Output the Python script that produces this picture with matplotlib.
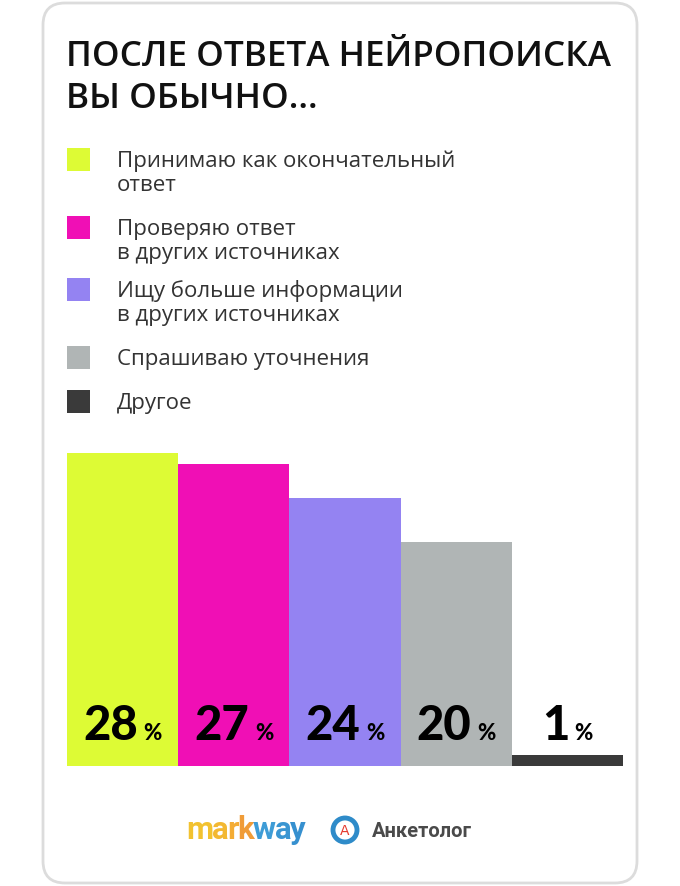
import matplotlib
matplotlib.use("Agg")
import matplotlib.pyplot as plt
from matplotlib.patches import FancyBboxPatch, Circle
from matplotlib.offsetbox import TextArea, HPacker, AnnotationBbox

# Survey data
title_lines = ["ПОСЛЕ ОТВЕТА НЕЙРОПОИСКА", "ВЫ ОБЫЧНО..."]
categories = [
    ["Принимаю как окончательный", "ответ"],
    ["Проверяю ответ", "в других источниках"],
    ["Ищу больше информации", "в других источниках"],
    ["Спрашиваю уточнения"],
    ["Другое"],
]
values = [28, 27, 24, 20, 1]
colors = ["#DDFB35", "#F00FB5", "#9483F2", "#B0B5B5", "#3A3A3A"]

W, H = 680, 886
fig = plt.figure(figsize=(W / 100, H / 100), dpi=100)

# background layer in pixel coordinates
bg = fig.add_axes([0, 0, 1, 1])
bg.set_xlim(0, W)
bg.set_ylim(H, 0)
bg.axis("off")
card = FancyBboxPatch((43, 3), 594, 880, boxstyle="round,pad=0,rounding_size=22",
                      facecolor="white", edgecolor="#DCDCDC", linewidth=2)
bg.add_patch(card)

for k, line in enumerate(title_lines):
    bg.text(66, 66 + k * 42, line, fontsize=25.3, fontweight="semibold", family="Open Sans",
            color="#111111", va="baseline")

# legend
legend_tops = [148, 216, 278, 346, 390]
for top, lines, c in zip(legend_tops, categories, colors):
    bg.add_patch(plt.Rectangle((67, top), 23, 23, facecolor=c, edgecolor="none"))
    for k, line in enumerate(lines):
        bg.text(117, top + 19 + k * 24, line, fontsize=16, family="Open Sans",
                fontweight="normal", color="#333333", va="baseline")

# bar chart
bar_h = 313
ax = fig.add_axes([67 / W, (H - 766) / H, (623 - 67) / W, bar_h / H])
x = range(len(values))
ax.bar(x, values, width=1.0, color=colors, edgecolor="none")
ax.set_xlim(-0.5, len(values) - 0.5)
ax.set_ylim(0, max(values))
ax.axis("off")
ax.patch.set_alpha(0)

for i, v in enumerate(values):
    num = TextArea(str(v), textprops=dict(fontsize=34, fontweight="black", family="Lato", color="black"))
    pct = TextArea("%", textprops=dict(fontsize=16, fontweight="black", family="Lato", color="black"))
    box = HPacker(children=[num, pct], sep=4, pad=0, align="baseline")
    ab = AnnotationBbox(box, (i, 0), xybox=(0, 13), xycoords="data", boxcoords="offset points",
                        box_alignment=(0.5, 0), frameon=False)
    ax.add_artist(ab)

# footer logos
logo_letters = list("markway")
logo_colors = ["#F2C230", "#F3B832", "#F4AC34", "#F09C38", "#3E9CD6", "#3A96D2", "#3690CF"]
letters = [TextArea(ch, textprops=dict(fontsize=22.5, fontweight="bold", family="Roboto", color=c))
           for ch, c in zip(logo_letters, logo_colors)]
mark = HPacker(children=letters, sep=-1, pad=0, align="baseline")
bg.add_artist(AnnotationBbox(mark, (246, 839), xycoords="data", box_alignment=(0.5, 0.2),
                             frameon=False))

bg.add_patch(Circle((345, 830), 12, facecolor="white", edgecolor="#2E8BC9", linewidth=3.5))
bg.text(345, 831, "А", fontsize=10, color="#E53A2E", ha="center", va="center", family="DejaVu Sans")
bg.text(372, 837, "Анкетолог", fontsize=14.5, fontweight="bold", color="#4A4A4A",
        family="Roboto", va="baseline")

fig.savefig("out.png", dpi=100)
